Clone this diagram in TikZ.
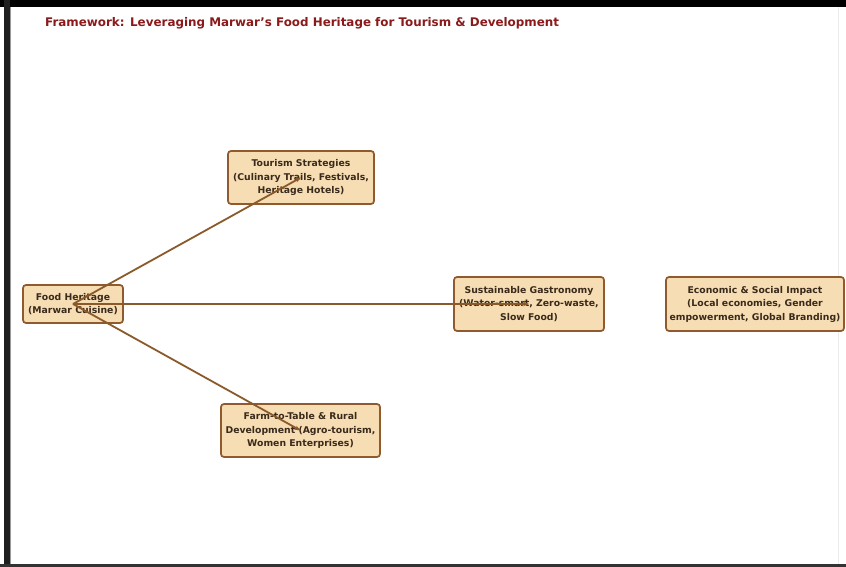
\documentclass[tikz,border=0pt]{standalone}
\usepackage{fontspec}
\setmainfont{DejaVu Sans}
\usetikzlibrary{arrows.meta}
\definecolor{boxfill}{HTML}{F6DDB3}
\definecolor{boxdraw}{HTML}{8E5A2E}
\definecolor{edgecol}{HTML}{8B5A2B}
\definecolor{titlecol}{HTML}{8B1A1A}
\definecolor{txtcol}{HTML}{3A2A1C}
\begin{document}
\begin{tikzpicture}[x=1pt,y=-1pt,
  box/.style={draw=boxdraw, line width=1.7pt, fill=boxfill, rounded corners=3pt,
    align=center, text=txtcol, font=\bfseries\fontsize{9.3}{13.5}\selectfont,
    inner sep=0pt, minimum height=#1},
  box/.default=53pt,
  edge/.style={draw=edgecol, line width=1.8pt, -{Stealth[length=6pt,width=4.5pt]}},
  frame/.style={fill=#1, draw=none}]
\useasboundingbox (0,0) rectangle (846,567);
\fill[white] (0,0) rectangle (846,567);
% screenshot frame
\path[frame=black] (0,0) rectangle (846,7);
\path[frame=black!88] (4,0) rectangle (10,567);
\path[frame=black!40] (10,7) rectangle (11,567);
\path[frame=black!80] (0,564) rectangle (846,567);
\path[frame=black!8] (838,7) rectangle (839,564);
% title
\node[anchor=west, text=titlecol, font=\bfseries\fontsize{11.9}{14}\selectfont, inner sep=0pt] (title) at (45,23) {Framework: Leveraging Marwar’s Food Heritage for Tourism \& Development};
% nodes
\node[box, minimum width=146pt] (ts) at (301,177.5) {Tourism Strategies\\(Culinary Trails, Festivals,\\Heritage Hotels)};
\node[box=38pt, minimum width=100pt] (fh) at (73,304) {Food Heritage\\(Marwar Cuisine)};
\node[box=54pt, minimum width=150pt] (sg) at (529,304) {Sustainable Gastronomy\\(Water-smart, Zero-waste,\\Slow Food)};
\node[box=54pt, minimum width=178pt] (es) at (755,304) {Economic \& Social Impact\\(Local economies, Gender\\empowerment, Global Branding)};
\node[box, minimum width=159pt] (ft) at (300.5,430.5) {Farm-to-Table \& Rural\\Development (Agro-tourism,\\Women Enterprises)};
% connectors
\draw[edge] (fh.center) -- (ts.center);
\draw[edge] (fh.center) -- (sg.center);
\draw[edge] (fh.center) -- (ft.center);
\end{tikzpicture}
\end{document}
